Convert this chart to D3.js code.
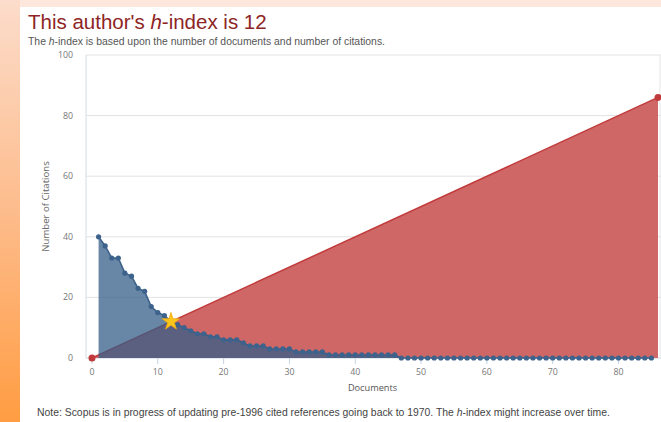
<!DOCTYPE html>
<html>
<head>
<meta charset="utf-8">
<script src="https://cdn.jsdelivr.net/npm/d3@7"></script>
<style>
  html, body { margin: 0; padding: 0; background: #fff; overflow: hidden; }
</style>
</head>
<body>
<div id="chart"></div>
<script>
// citations per document, ranked (document 1 = most cited)
const CITATIONS = [
  40, 37, 33, 33, 28, 27, 23, 22, 17, 15,
  14, 12, 11, 10, 9, 8, 8, 7, 7, 6,
  6, 6, 5, 4, 4, 4, 3, 3, 3, 3,
  2, 2, 2, 2, 2, 1, 1, 1, 1, 1,
  1, 1, 1, 1, 1, 1, 0, 0, 0, 0,
  0, 0, 0, 0, 0, 0, 0, 0, 0, 0,
  0, 0, 0, 0, 0, 0, 0, 0, 0, 0,
  0, 0, 0, 0, 0, 0, 0, 0, 0, 0,
  0, 0, 0, 0, 0
];
// h-index reference line (documents = citations)
const H_LINE = [[0, 0], [86, 86]];
const H_INDEX = 12;
const X_TICKS = [0, 10, 20, 30, 40, 50, 60, 70, 80];
const Y_TICKS = [0, 20, 40, 60, 80, 100];

const W = 661, H = 422;
const frame = { left: 86, right: 659, top: 55, bottom: 358 };
const FONT = '"Liberation Sans", Arial, sans-serif';
const AXFONT = '"Open Sans", "Liberation Sans", sans-serif';

const svg = d3.select('#chart').append('svg')
  .attr('width', W).attr('height', H);

// page background: peach strip on top, orange fade on the left
const grad = svg.append('defs').append('linearGradient')
  .attr('id', 'side').attr('x1', 0).attr('y1', 0).attr('x2', 0).attr('y2', 1);
grad.append('stop').attr('offset', '0%').attr('stop-color', '#fcdccb');
grad.append('stop').attr('offset', '55%').attr('stop-color', '#fdb985');
grad.append('stop').attr('offset', '100%').attr('stop-color', '#ff9d42');

svg.append('rect').attr('width', W).attr('height', H).attr('fill', '#fde6db');
svg.append('rect').attr('x', 0).attr('y', 0).attr('width', 20).attr('height', H).attr('fill', 'url(#side)');
svg.append('rect').attr('x', 20).attr('y', 7).attr('width', W - 20).attr('height', H - 7).attr('fill', '#fff');

// titles
const title = svg.append('text')
  .attr('x', 28).attr('y', 29)
  .attr('fill', '#8e2525').attr('font-size', 20.5).attr('font-family', FONT);
title.append('tspan').text("This author's ");
title.append('tspan').text('h').attr('font-style', 'italic');
title.append('tspan').text('-index is ' + H_INDEX);

const sub = svg.append('text')
  .attr('x', 28).attr('y', 45)
  .attr('fill', '#555').attr('font-size', 10.4).attr('font-family', FONT);
sub.append('tspan').text('The ');
sub.append('tspan').text('h').attr('font-style', 'italic');
sub.append('tspan').text('-index is based upon the number of documents and number of citations.');

// scales
const x = d3.scaleLinear().domain([0, 80]).range([92, 618.5]);
const y = d3.scaleLinear().domain([0, 100]).range([frame.bottom, frame.top]);

// grid
const gridG = svg.append('g');
for (const t of Y_TICKS) {
  gridG.append('line')
    .attr('x1', frame.left).attr('x2', W).attr('y1', y(t)).attr('y2', y(t))
    .attr('stroke', t === 0 ? '#c6d3e0' : '#e2e2e2').attr('stroke-width', 1);
  gridG.append('text').text(t)
    .attr('x', 73).attr('y', y(t)).attr('dy', '0.35em').attr('text-anchor', 'end')
    .attr('fill', '#777').attr('font-size', 8.8).attr('font-family', AXFONT);
}
gridG.append('line')
  .attr('x1', frame.left).attr('x2', frame.left).attr('y1', frame.top).attr('y2', frame.bottom)
  .attr('stroke', '#d3dce6');
gridG.append('line')
  .attr('x1', frame.right + 1).attr('x2', frame.right + 1).attr('y1', frame.top).attr('y2', frame.bottom)
  .attr('stroke', '#e6e6e6');
for (const t of X_TICKS) {
  gridG.append('line')
    .attr('x1', x(t)).attr('x2', x(t)).attr('y1', frame.bottom).attr('y2', frame.bottom + 6)
    .attr('stroke', '#c6d3e0');
  gridG.append('text').text(t)
    .attr('x', x(t)).attr('y', frame.bottom + 17).attr('text-anchor', 'middle')
    .attr('fill', '#777').attr('font-size', 8.8).attr('font-family', AXFONT);
}

// axis titles
svg.append('text').text('Documents')
  .attr('x', (frame.left + frame.right) / 2).attr('y', 391).attr('text-anchor', 'middle')
  .attr('fill', '#555').attr('font-size', 9.2).attr('font-family', AXFONT);
svg.append('text').text('Number of Citations')
  .attr('transform', `translate(49,${(frame.top + frame.bottom) / 2}) rotate(-90)`)
  .attr('text-anchor', 'middle')
  .attr('fill', '#666').attr('font-size', 9.6).attr('font-family', AXFONT);

// h-index reference area (red)
const area = d3.area().x(d => x(d[0])).y0(y(0)).y1(d => y(d[1]));
const line = d3.line().x(d => x(d[0])).y(d => y(d[1]));

const redG = svg.append('g');
redG.append('path').datum(H_LINE).attr('d', area).attr('fill', '#cf6767');
redG.append('path').datum(H_LINE).attr('d', line)
  .attr('fill', 'none').attr('stroke', '#c13b3b').attr('stroke-width', 1.5);

// citations (blue)
const pts = CITATIONS.map((c, i) => [i + 1, c]);
const blueG = svg.append('g');
blueG.append('path').datum(pts).attr('d', area)
  .attr('fill', '#365e88').attr('fill-opacity', 0.75);
blueG.append('path').datum(pts).attr('d', line)
  .attr('fill', 'none').attr('stroke', '#3a5f87').attr('stroke-width', 1.5);
blueG.selectAll('circle').data(pts).join('circle')
  .attr('cx', d => x(d[0])).attr('cy', d => y(d[1])).attr('r', 2.6)
  .attr('fill', '#3d638c');

svg.append('g').selectAll('circle').data(H_LINE).join('circle')
  .attr('cx', d => x(d[0])).attr('cy', d => y(d[1])).attr('r', 3.5)
  .attr('fill', '#c1393b');

// h-index star
svg.append('path')
  .attr('d', d3.symbol(d3.symbolStar, 95)())
  .attr('transform', `translate(${x(H_INDEX)},${y(CITATIONS[H_INDEX - 1])})`)
  .attr('fill', '#fcc51c').attr('stroke', '#f0a810').attr('stroke-width', 0.8);

// note
const note = svg.append('text')
  .attr('x', 37).attr('y', 416)
  .attr('fill', '#444').attr('font-size', 10.4).attr('font-family', FONT);
note.append('tspan').text('Note: Scopus is in progress of updating pre-1996 cited references going back to 1970. The ');
note.append('tspan').text('h').attr('font-style', 'italic');
note.append('tspan').text('-index might increase over time.');
</script>
</body>
</html>
